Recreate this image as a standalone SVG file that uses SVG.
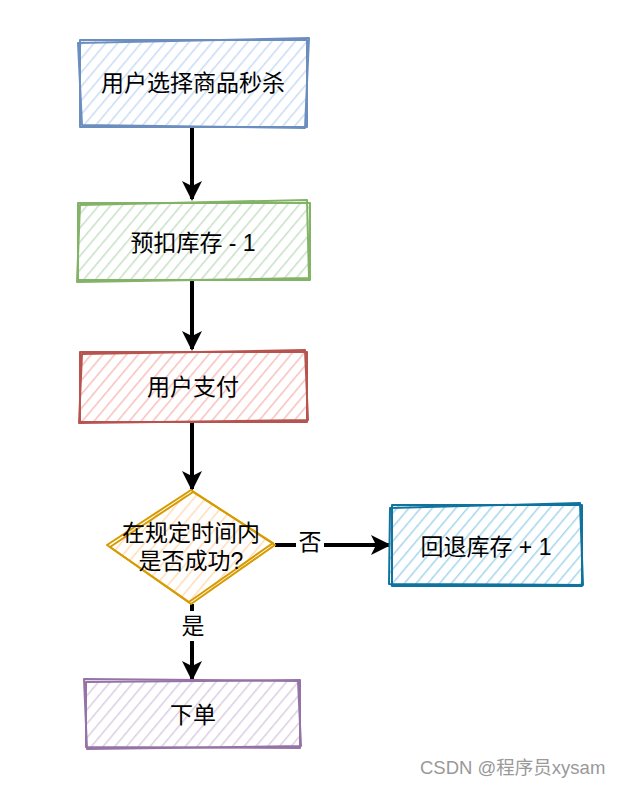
<svg xmlns="http://www.w3.org/2000/svg" width="620" height="786" viewBox="0 0 620 786">
<style>
.lbl{font-family:"Liberation Sans","Noto Sans CJK SC",sans-serif;font-size:23px;fill:#000;text-anchor:middle;dominant-baseline:central}
.edge{stroke:#000;stroke-width:4;fill:none}
.sk{fill:none;stroke-width:2;stroke-linejoin:round}
</style>
<defs>
<pattern id="hb" width="9" height="9" patternUnits="userSpaceOnUse" patternTransform="rotate(40)"><rect width="9" height="9" fill="#fff"/><line x1="0" y1="0" x2="0" y2="9" stroke="#c9dcf6" stroke-width="3"/></pattern>
<pattern id="hg" width="9" height="9" patternUnits="userSpaceOnUse" patternTransform="rotate(40)"><rect width="9" height="9" fill="#fff"/><line x1="0" y1="0" x2="0" y2="9" stroke="#c8e0c6" stroke-width="3"/></pattern>
<pattern id="hr" width="9" height="9" patternUnits="userSpaceOnUse" patternTransform="rotate(40)"><rect width="9" height="9" fill="#fff"/><line x1="0" y1="0" x2="0" y2="9" stroke="#f6c0bd" stroke-width="3"/></pattern>
<pattern id="ho" width="9" height="9" patternUnits="userSpaceOnUse" patternTransform="rotate(40)"><rect width="9" height="9" fill="#fff"/><line x1="0" y1="0" x2="0" y2="9" stroke="#ffdcb8" stroke-width="3"/></pattern>
<pattern id="ht" width="9" height="9" patternUnits="userSpaceOnUse" patternTransform="rotate(40)"><rect width="9" height="9" fill="#fff"/><line x1="0" y1="0" x2="0" y2="9" stroke="#a5d6ec" stroke-width="3"/></pattern>
<pattern id="hp" width="9" height="9" patternUnits="userSpaceOnUse" patternTransform="rotate(40)"><rect width="9" height="9" fill="#fff"/><line x1="0" y1="0" x2="0" y2="9" stroke="#dccde3" stroke-width="3"/></pattern>
<marker id="ah" viewBox="0 0 20 20" refX="18" refY="10" markerWidth="5" markerHeight="5" orient="auto" markerUnits="strokeWidth"><path d="M0,0 L20,10 L0,20 L5,10 Z" fill="#000"/></marker>
</defs>

<g id="edges">
<line class="edge" x1="192" y1="127" x2="192" y2="199" marker-end="url(#ah)"/>
<line class="edge" x1="192" y1="280" x2="192" y2="349" marker-end="url(#ah)"/>
<line class="edge" x1="192" y1="422" x2="192" y2="489" marker-end="url(#ah)"/>
<line class="edge" x1="275" y1="545" x2="296" y2="545"/>
<line class="edge" x1="324" y1="545" x2="389" y2="545" marker-end="url(#ah)"/>
<text class="lbl" x="310" y="542">否</text>
<line class="edge" x1="192" y1="604" x2="192" y2="611"/>
<line class="edge" x1="192" y1="641" x2="192" y2="679" marker-end="url(#ah)"/>
<text class="lbl" x="193" y="626">是</text>
</g>

<g id="n1">
<rect x="80" y="40" width="227" height="87" fill="url(#hb)"/>
<path class="sk" stroke="#6c8ebf" d="M80,40 L307,40 L307,127 L80,127 Z"/>
<path class="sk" stroke="#6c8ebf" stroke-width="1.3" d="M78,43 L309,38 L305,128 L82,125 Z"/>
<text class="lbl" x="193" y="83">用户选择商品秒杀</text>
</g>

<g id="n2">
<rect x="78" y="203" width="232" height="77" fill="url(#hg)"/>
<path class="sk" stroke="#82b366" d="M78,203 L310,203 L310,280 L78,280 Z"/>
<path class="sk" stroke="#82b366" stroke-width="1.3" d="M80,205 L307,200 L309,278 L77,282 Z"/>
<text class="lbl" x="193" y="243">预扣库存 - 1</text>
</g>

<g id="n3">
<rect x="80" y="352" width="227" height="70" fill="url(#hr)"/>
<path class="sk" stroke="#b85450" d="M80,352 L307,352 L307,422 L80,422 Z"/>
<path class="sk" stroke="#b85450" stroke-width="1.3" d="M82,354 L305,350 L308,420 L79,423 Z"/>
<text class="lbl" x="193" y="387">用户支付</text>
</g>

<g id="n4">
<path d="M191,490 L275,545 L191,604 L107,545 Z" fill="url(#ho)"/>
<path class="sk" stroke="#d79b00" d="M191,490 L275,545 L191,604 L107,545 Z"/>
<path class="sk" stroke="#d79b00" stroke-width="1.3" d="M193,492 L273,543 L189,602 L110,547 Z"/>
<text class="lbl" x="191" y="533">在规定时间内</text>
<text class="lbl" x="191" y="561">是否成功?</text>
</g>

<g id="n5">
<rect x="390" y="505" width="192" height="81" fill="url(#ht)"/>
<path class="sk" stroke="#10739e" d="M392,505 L582,505 L582,586 L392,586 Z"/>
<path class="sk" stroke="#10739e" stroke-width="1.3" d="M390,508 L580,503 L583,585 L389,584 Z"/>
<text class="lbl" x="486" y="547">回退库存 + 1</text>
</g>

<g id="n6">
<rect x="86" y="681" width="214" height="67" fill="url(#hp)"/>
<path class="sk" stroke="#9673a6" d="M86,682 L300,680 L300,748 L86,747 Z"/>
<path class="sk" stroke="#9673a6" stroke-width="1.3" d="M84,679 L298,681 L301,746 L87,749 Z"/>
<text class="lbl" x="193" y="715">下单</text>
</g>

<text x="420" y="767" font-family="'Liberation Sans','Noto Sans CJK SC',sans-serif" font-size="18.5" fill="#999" dominant-baseline="central">CSDN @程序员xysam</text>
</svg>
